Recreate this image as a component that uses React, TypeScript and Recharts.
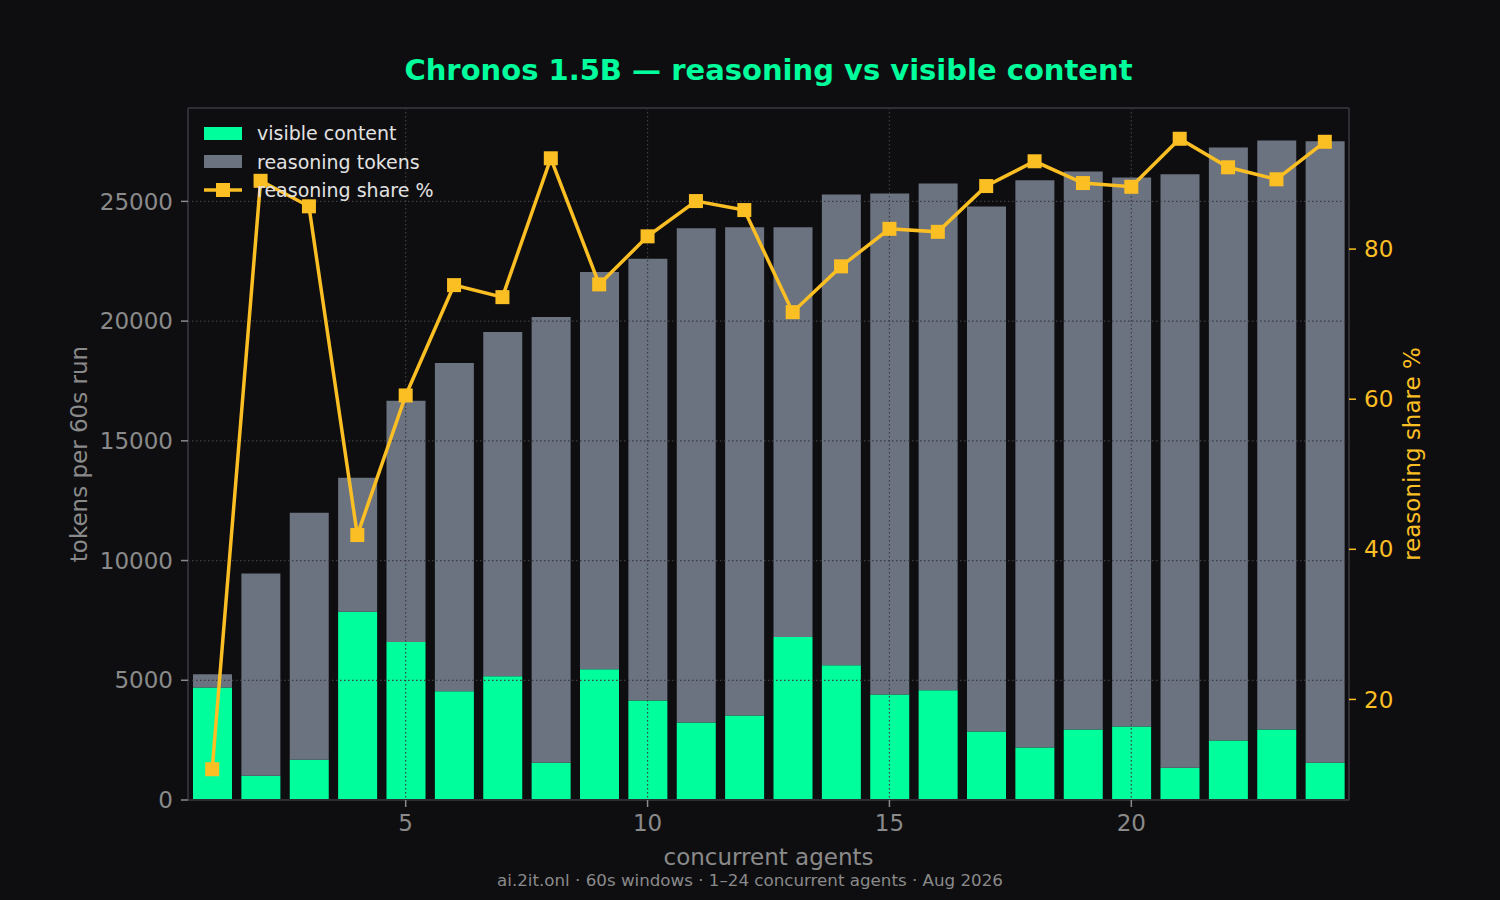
import React from 'react';
import { ComposedChart, Bar, Line, XAxis, YAxis, CartesianGrid, ReferenceLine } from 'recharts';

const agents = [1, 2, 3, 4, 5, 6, 7, 8, 9, 10, 11, 12, 13, 14, 15, 16, 17, 18, 19, 20, 21, 22, 23, 24];
const visibleContent = [4700, 1010, 1680, 7860, 6600, 4540, 5170, 1560, 5460, 4160, 3240, 3530, 6810, 5630, 4410, 4580, 2860, 2190, 2940, 3070, 1350, 2480, 2940, 1560];
const reasoningTokens = [550, 8450, 10320, 5600, 10070, 13710, 14370, 18610, 16590, 18440, 20640, 20390, 17110, 19660, 20920, 21170, 21930, 23690, 23310, 22930, 24780, 24770, 24600, 25950];
const reasoningShare = [10.7, 89.1, 85.7, 41.9, 60.5, 75.2, 73.6, 92.1, 75.3, 81.7, 86.4, 85.2, 71.6, 77.7, 82.7, 82.3, 88.4, 91.7, 88.8, 88.3, 94.7, 90.9, 89.3, 94.3];

const xTicks = [5, 10, 15, 20];
const leftTicks = [0, 5000, 10000, 15000, 20000, 25000];
const rightTicks = [20, 40, 60, 80];

const data = agents.map((a, i) => ({
  agents: a,
  visible: visibleContent[i],
  reasoning: reasoningTokens[i],
  share: reasoningShare[i],
}));

const BG = '#0e0e11';
const GREEN = '#00ff9c';
const GRAY = '#6b7280';
const AMBER = '#fbbf24';
const TICK = '#8a8a8a';
const SPINE = '#2e2e34';
const FONT = '"DejaVu Sans", sans-serif';

const SquareDot = (props: any) => {
  const { cx, cy, index } = props;
  if (cx == null || cy == null) return <g key={`d${index}`} />;
  return <rect key={`d${index}`} x={cx - 7} y={cy - 7} width={14} height={14} fill={AMBER} />;
};

export default function App() {
  return (
    <div style={{ position: 'absolute', left: 0, top: 0, width: 1500, height: 900, background: BG, fontFamily: FONT, overflow: 'hidden' }}>
      <ComposedChart
        width={1500}
        height={900}
        data={data}
        margin={{ top: 108, right: 71, bottom: 30, left: 88 }}
        style={{ fontFamily: FONT }}
      >
        <XAxis
          dataKey="agents"
          type="number"
          domain={[0.5, 24.5]}
          ticks={xTicks}
          allowDataOverflow
          height={70}
          tickSize={7}
          tickMargin={8}
          tick={{ fill: TICK, fontSize: 23 }}
          tickLine={{ stroke: TICK, strokeWidth: 1.5 }}
          axisLine={{ stroke: SPINE, strokeWidth: 2 }}
        />
        <YAxis
          yAxisId="left"
          orientation="left"
          domain={[0, 28900]}
          ticks={leftTicks}
          allowDataOverflow
          width={100}
          tickSize={7}
          tickMargin={8}
          tick={{ fill: TICK, fontSize: 23 }}
          tickLine={{ stroke: TICK, strokeWidth: 1.5 }}
          axisLine={{ stroke: SPINE, strokeWidth: 2 }}
        />
        <YAxis
          yAxisId="right"
          orientation="right"
          domain={[6.6, 98.8]}
          ticks={rightTicks}
          allowDataOverflow
          width={80}
          tickSize={7}
          tickMargin={8}
          tick={{ fill: AMBER, fontSize: 23 }}
          tickLine={{ stroke: AMBER, strokeWidth: 1.5 }}
          axisLine={{ stroke: SPINE, strokeWidth: 2 }}
        />
        <Bar yAxisId="left" dataKey="visible" stackId="tok" fill={GREEN} barSize={39} isAnimationActive={false} />
        <Bar yAxisId="left" dataKey="reasoning" stackId="tok" fill={GRAY} barSize={39} isAnimationActive={false} />
        <CartesianGrid
          yAxisId="left"
          stroke="#3c3c42"
          strokeWidth={1.2}
          strokeDasharray="1.5 2.5"
          zIndex={350}
        />
        <ReferenceLine yAxisId="left" y={28900} stroke={SPINE} strokeWidth={2} ifOverflow="visible" />
        <Line
          yAxisId="right"
          dataKey="share"
          stroke={AMBER}
          strokeWidth={3.5}
          dot={SquareDot}
          activeDot={false}
          isAnimationActive={false}
        />
      </ComposedChart>

      <div style={{ position: 'absolute', left: 0, width: 1537, top: 54, textAlign: 'center', color: GREEN, fontWeight: 'bold', fontSize: 29, lineHeight: '32px' }}>
        Chronos 1.5B — reasoning vs visible content
      </div>

      <div style={{ position: 'absolute', left: 204, top: 119, color: '#e2e2e2', fontSize: 19 }}>
        <div style={{ display: 'flex', alignItems: 'center', height: 28.5 }}>
          <div style={{ width: 38, height: 13, background: GREEN, marginRight: 15 }} />
          <span>visible content</span>
        </div>
        <div style={{ display: 'flex', alignItems: 'center', height: 28.5 }}>
          <div style={{ width: 38, height: 13, background: GRAY, marginRight: 15 }} />
          <span>reasoning tokens</span>
        </div>
        <div style={{ display: 'flex', alignItems: 'center', height: 28.5 }}>
          <svg width={38} height={16} style={{ marginRight: 15 }}>
            <line x1={0} y1={8} x2={38} y2={8} stroke={AMBER} strokeWidth={3.5} />
            <rect x={12} y={1} width={14} height={14} fill={AMBER} />
          </svg>
          <span>reasoning share %</span>
        </div>
      </div>

      <div style={{ position: 'absolute', left: 0, width: 1537, top: 845, textAlign: 'center', color: TICK, fontSize: 23, lineHeight: '25px' }}>
        concurrent agents
      </div>

      <div style={{ position: 'absolute', left: 79 - 150, top: 454 - 13, width: 300, height: 26, lineHeight: '26px', textAlign: 'center', color: TICK, fontSize: 23, transform: 'rotate(-90deg)' }}>
        tokens per 60s run
      </div>

      <div style={{ position: 'absolute', left: 1412 - 150, top: 454 - 13, width: 300, height: 26, lineHeight: '26px', textAlign: 'center', color: AMBER, fontSize: 23, transform: 'rotate(-90deg)' }}>
        reasoning share %
      </div>

      <div style={{ position: 'absolute', left: 0, width: 1500, top: 870, textAlign: 'center', color: '#8a8a8a', fontSize: 16.7, lineHeight: '20px' }}>
        ai.2it.onl · 60s windows · 1–24 concurrent agents · Aug 2026
      </div>
    </div>
  );
}
